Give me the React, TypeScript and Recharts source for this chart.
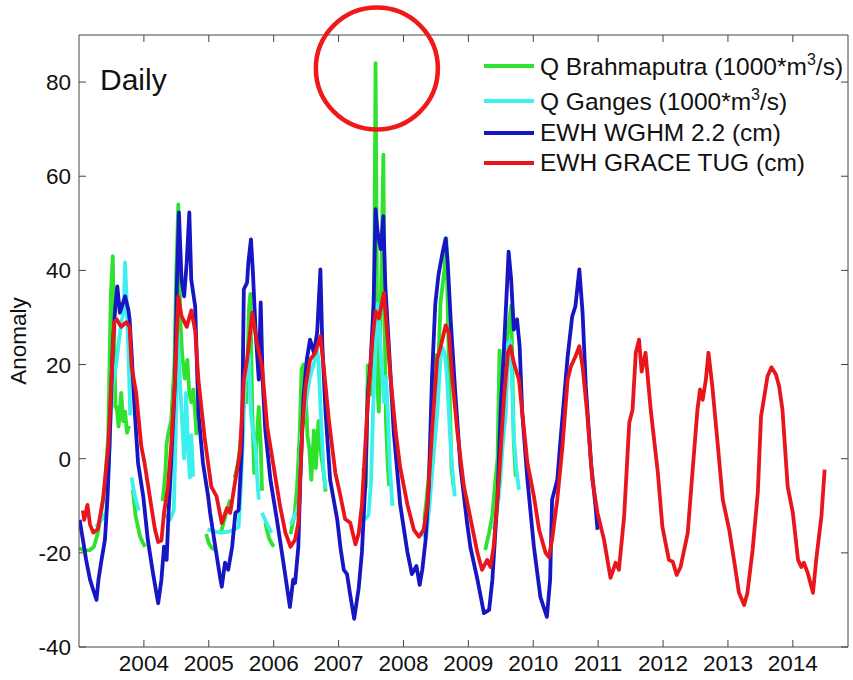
import { LineChart, Line, XAxis, YAxis, ReferenceDot, Legend } from "recharts";

type Pt = [number, number] | null;

const YEAR_TICKS = [2004, 2005, 2006, 2007, 2008, 2009, 2010, 2011, 2012, 2013, 2014];
const ANOMALY_TICKS = [-40, -20, 0, 20, 40, 60, 80];
const X_DOMAIN: [number, number] = [2003, 2014.85];
const Y_DOMAIN: [number, number] = [-40, 90];

// the 2007 Brahmaputra spike that is circled in the figure
const HIGHLIGHT = { t: 2007.59, v: 82.9 };

// [decimal year, anomaly]; null = data gap
const brahmaputra: Pt[] = [
  [2003.0, -19], [2003.08, -19.5], [2003.17, -19.4], [2003.23, -18.7], [2003.29, -15.8], [2003.34, -11.5],
  [2003.4, -6], [2003.45, 5], [2003.49, 34.5], [2003.52, 43], [2003.54, 30], [2003.56, 11], [2003.58, 11],
  [2003.61, 6.8], [2003.65, 14], [2003.68, 8], [2003.71, 10], [2003.74, 5.5], [2003.77, 7],
  null,
  [2003.83, -6.6], [2003.87, -12], [2003.94, -16.5], [2003.99, -18], [2004.02, -18.7],
  null,
  [2004.29, -9], [2004.33, -3], [2004.35, 3], [2004.37, 5], [2004.42, 8], [2004.47, 20], [2004.5, 40],
  [2004.53, 54], [2004.56, 30], [2004.59, 22], [2004.63, 17], [2004.67, 21], [2004.7, 14], [2004.73, 12],
  [2004.76, 14.7], [2004.79, 9.8], [2004.81, 5],
  null,
  [2004.96, -16], [2005.0, -18], [2005.05, -19], [2005.1, -19.4],
  null,
  [2005.18, -16], [2005.26, -12], [2005.33, -8.7],
  null,
  [2005.4, -4], [2005.45, -1], [2005.5, 5], [2005.55, 14], [2005.58, 12], [2005.62, 32], [2005.64, 35],
  [2005.67, 10], [2005.7, -3], [2005.73, 2], [2005.77, 11], [2005.8, 3], [2005.82, -6.8],
  null,
  [2005.87, -13.6], [2005.93, -17], [2006.0, -18.7],
  null,
  [2006.26, -16], [2006.32, -12], [2006.36, -6], [2006.4, 5], [2006.43, 19], [2006.46, 20], [2006.49, 15],
  [2006.52, 5], [2006.55, 2], [2006.58, -4.5], [2006.62, 6], [2006.65, -2], [2006.69, 8], [2006.73, 1],
  [2006.77, -3], [2006.8, -7],
  null,
  [2007.38, -2], [2007.42, -6], [2007.45, 19.8], [2007.49, 13.6], [2007.52, 18], [2007.55, 40], [2007.57, 84],
  [2007.585, 50], [2007.6, 15], [2007.62, 10], [2007.66, 40], [2007.69, 64.6], [2007.71, 30], [2007.73, 8],
  [2007.76, -2], [2007.78, -5.8],
  null,
  [2008.32, -13], [2008.36, -8], [2008.4, -2], [2008.45, 12], [2008.5, 22], [2008.53, 17], [2008.57, 33],
  [2008.63, 40], [2008.66, 46.8], [2008.7, 20], [2008.74, -2], [2008.77, -5.8],
  null,
  [2009.26, -19.4], [2009.32, -15.7], [2009.37, -12], [2009.4, -7], [2009.45, 0], [2009.48, 23], [2009.5, 12.5],
  [2009.55, 20], [2009.62, 28], [2009.66, 32.5], [2009.7, 3.4], [2009.73, -3.8],
];

const ganges: Pt[] = [
  [2003.26, -14.5], [2003.35, -13], [2003.42, -11.5], [2003.47, 2.6], [2003.5, 13.5], [2003.55, 18.4],
  [2003.58, 20.6], [2003.62, 25.5], [2003.66, 29.6], [2003.69, 31], [2003.71, 41.7], [2003.73, 35],
  [2003.76, 23.4], [2003.79, 9.2],
  null,
  [2003.81, -4], [2003.86, -8], [2003.92, -11],
  null,
  [2004.33, -12], [2004.4, -13], [2004.46, -11], [2004.49, 5], [2004.52, 27], [2004.54, 21], [2004.58, 10],
  [2004.62, 0], [2004.65, 14], [2004.68, 2], [2004.71, -4], [2004.73, 5], [2004.76, -3.8],
  null,
  [2004.98, -15], [2005.1, -15.5], [2005.2, -15.7], [2005.3, -15.5], [2005.4, -15], [2005.46, -14.5],
  [2005.5, -4.5], [2005.55, 13.5], [2005.58, 19.9], [2005.6, 17], [2005.62, 22], [2005.65, 9.8],
  [2005.68, 5.5], [2005.72, 2.6], [2005.74, -3], [2005.77, -8.7],
  null,
  [2005.82, -11.5], [2005.9, -14], [2005.97, -15.7],
  null,
  [2006.26, -14], [2006.33, -12], [2006.4, -9], [2006.42, 4.7], [2006.51, 13.2], [2006.56, 17.4],
  [2006.62, 20.2], [2006.67, 23], [2006.69, 21], [2006.72, 11.3], [2006.75, 2.8], [2006.77, -2.8], [2006.8, -6.4],
  null,
  [2007.4, -13], [2007.46, -12], [2007.5, -5], [2007.53, 9.7], [2007.56, 20], [2007.6, 33], [2007.63, 28],
  [2007.66, 20], [2007.7, 12], [2007.73, 17.4], [2007.76, 9.7], [2007.79, -1.9], [2007.83, -10],
  null,
  [2008.29, -16], [2008.35, -16.6], [2008.4, -10], [2008.46, 0], [2008.52, 9.7], [2008.57, 21.3],
  [2008.6, 23.6], [2008.64, 22], [2008.67, 17.4], [2008.7, 9.7], [2008.73, 1.9], [2008.75, -1.9], [2008.79, -8],
  null,
  [2009.39, -15], [2009.45, -10], [2009.49, -5], [2009.53, 3], [2009.58, 10], [2009.61, 24.6], [2009.64, 25],
  [2009.67, 17.4], [2009.7, 4.7], [2009.74, -2.3], [2009.78, -6.6],
];

const wghm: Pt[] = [
  [2003.01, -13], [2003.06, -17.2], [2003.11, -21.5], [2003.17, -25.7], [2003.22, -27.9], [2003.27, -30],
  [2003.3, -25.7], [2003.34, -22.1], [2003.4, -17.2], [2003.44, -8], [2003.47, 2.6], [2003.52, 23.9],
  [2003.56, 32.4], [2003.59, 36.6], [2003.63, 31], [2003.68, 33.2], [2003.71, 34.5], [2003.76, 31.7],
  [2003.78, 29.6], [2003.81, 22.5], [2003.86, 9.8], [2003.91, -0.9], [2003.99, -8], [2004.06, -17.2],
  [2004.14, -24.3], [2004.22, -30.7], [2004.27, -25.7], [2004.31, -18.7], [2004.35, -21.5], [2004.38, -11.5],
  [2004.42, -0.9], [2004.48, 16.8], [2004.51, 38], [2004.54, 52.3], [2004.58, 38], [2004.62, 34.5],
  [2004.66, 41.7], [2004.7, 52.3], [2004.73, 38], [2004.79, 32.4], [2004.84, 9.8], [2004.91, -0.9],
  [2004.99, -8], [2005.02, -11.5], [2005.1, -18.7], [2005.18, -25.7], [2005.2, -27.2], [2005.25, -22.1],
  [2005.3, -23.6], [2005.36, -18.7], [2005.41, -11.5], [2005.46, -10.9], [2005.51, 2.6], [2005.54, 36],
  [2005.59, 37.4], [2005.61, 41.7], [2005.65, 46.6], [2005.68, 39.6], [2005.72, 27.4], [2005.77, 16.8],
  [2005.8, 33.2], [2005.83, 16.8], [2005.87, 6.2], [2005.95, -4.5], [2006.05, -13], [2006.15, -22.1],
  [2006.25, -31.5], [2006.3, -25.7], [2006.33, -26.4], [2006.38, -18.7], [2006.41, -4.5], [2006.46, 13.2],
  [2006.51, 21], [2006.56, 25.3], [2006.62, 22.5], [2006.67, 26.8], [2006.72, 40.2], [2006.75, 23.9],
  [2006.8, 9.8], [2006.87, -4.5], [2006.98, -13], [2007.03, -19], [2007.08, -23.6], [2007.13, -24.5],
  [2007.18, -29], [2007.24, -34], [2007.31, -27.5], [2007.36, -19.8], [2007.41, -5.8], [2007.45, 13.6],
  [2007.49, 19.8], [2007.54, 32.8], [2007.57, 53], [2007.6, 48.3], [2007.65, 44.5], [2007.69, 51.5],
  [2007.72, 36.8], [2007.77, 25.1], [2007.85, 5.7], [2007.95, -9.8], [2008.06, -19.8], [2008.13, -24.5],
  [2008.2, -22.8], [2008.25, -26.8], [2008.29, -23.6], [2008.34, -17.4], [2008.39, -5.8], [2008.44, 17.4],
  [2008.49, 32.8], [2008.54, 39.1], [2008.6, 43.6], [2008.65, 46.8], [2008.68, 42.1], [2008.73, 28.9],
  [2008.8, 13.6], [2008.88, -1.9], [2008.98, -13.6], [2009.03, -18.7], [2009.14, -25.7], [2009.24, -32.8],
  [2009.32, -32.1], [2009.37, -25.7], [2009.45, -8], [2009.5, 11], [2009.55, 23.9], [2009.6, 38],
  [2009.62, 44], [2009.66, 38], [2009.7, 27.4], [2009.75, 29.6], [2009.79, 23.9], [2009.83, 9.8],
  [2009.91, -4.5], [2010.01, -18.7], [2010.11, -29.4], [2010.21, -33.6], [2010.26, -25.7], [2010.29, -8.7],
  [2010.37, -4.5], [2010.42, 4], [2010.53, 21.7], [2010.6, 30.2], [2010.65, 32.4], [2010.71, 40.2],
  [2010.76, 31], [2010.81, 15.3], [2010.89, -0.9], [2010.96, -10.2], [2010.99, -15.1],
];

const graceTug: Pt[] = [
  [2003.06, -11], [2003.08, -13], [2003.13, -9.8], [2003.17, -14], [2003.22, -15.7], [2003.29, -15],
  [2003.37, -8.7], [2003.45, 2.6], [2003.5, 16.8], [2003.54, 28.9], [2003.58, 29.6], [2003.65, 28],
  [2003.73, 29], [2003.78, 28], [2003.81, 19.6], [2003.88, 14], [2003.96, 2.6], [2004.01, -0.9],
  [2004.09, -8], [2004.17, -15], [2004.22, -17.7], [2004.27, -17.4], [2004.31, -11.5], [2004.37, -6],
  [2004.42, 2.6], [2004.48, 16.8], [2004.53, 34.5], [2004.58, 30.3], [2004.66, 28], [2004.73, 31.5],
  [2004.79, 27.2], [2004.84, 16.8], [2004.94, 4], [2005.04, -6], [2005.12, -8], [2005.2, -13.7],
  [2005.28, -10.5], [2005.33, -11.5], [2005.41, -4.5], [2005.48, 1.3], [2005.54, 16.8], [2005.59, 21],
  [2005.67, 31], [2005.74, 24.7], [2005.82, 19.6], [2005.9, 6.8], [2006.0, -1.7], [2006.1, -10.2],
  [2006.18, -15.7], [2006.26, -18.7], [2006.33, -17.2], [2006.38, -13.6], [2006.44, 6.2], [2006.49, 15.3],
  [2006.56, 21], [2006.64, 22.5], [2006.72, 26], [2006.77, 19.6], [2006.85, 8.3], [2006.95, -3],
  [2007.03, -8], [2007.1, -12.8], [2007.18, -13.6], [2007.26, -18.2], [2007.31, -15.9], [2007.36, -9.7],
  [2007.44, 9.7], [2007.52, 25.1], [2007.57, 31.3], [2007.62, 29.8], [2007.7, 35.2], [2007.75, 26.7],
  [2007.8, 17.4], [2007.88, 5.7], [2007.95, -1.9], [2008.06, -9.7], [2008.16, -15.1], [2008.24, -16.6],
  [2008.31, -15.1], [2008.37, -9.7], [2008.44, 5.7], [2008.52, 21.3], [2008.57, 23.6], [2008.65, 28.3],
  [2008.7, 26.7], [2008.75, 17.4], [2008.83, 5.7], [2008.93, -5.8], [2009.03, -12.5], [2009.14, -20],
  [2009.21, -23.6], [2009.29, -21.5], [2009.34, -23], [2009.39, -18.7], [2009.47, -4.5], [2009.55, 13.2],
  [2009.61, 22.5], [2009.65, 23.9], [2009.7, 20.4], [2009.78, 16.8], [2009.83, 9.8], [2009.91, -0.9],
  [2010.01, -8], [2010.09, -15.1], [2010.19, -20], [2010.24, -20.9], [2010.29, -17.2], [2010.37, -8.7],
  [2010.45, 2.6], [2010.53, 16.8], [2010.58, 19.6], [2010.65, 21.7], [2010.71, 23.9], [2010.76, 19.6],
  [2010.83, 9.8], [2010.91, -4.5], [2010.99, -11.5], [2011.09, -17.2], [2011.19, -25.3], [2011.27, -22.1],
  [2011.32, -23.6], [2011.4, -12.3], [2011.48, 7.7], [2011.53, 10.4], [2011.58, 22.5], [2011.63, 25.3],
  [2011.67, 18.5], [2011.73, 22.5], [2011.81, 10.4], [2011.92, -3], [2011.99, -14.5], [2012.09, -21.5],
  [2012.15, -21.9], [2012.21, -24.7], [2012.27, -23], [2012.38, -15.8], [2012.46, -1.7], [2012.53, 10.4],
  [2012.57, 14.7], [2012.61, 12.5], [2012.66, 16.8], [2012.7, 22.5], [2012.76, 15.3], [2012.84, 3.4],
  [2012.92, -8.7], [2013.02, -15.1], [2013.1, -22.1], [2013.17, -28.5], [2013.25, -31.1], [2013.3, -28.5],
  [2013.38, -19.4], [2013.46, -7.2], [2013.51, 9], [2013.56, 13.2], [2013.61, 17.5], [2013.67, 19.4],
  [2013.74, 17.9], [2013.79, 15.3], [2013.84, 10.4], [2013.92, -5.9], [2014.0, -11.5], [2014.08, -21.5],
  [2014.13, -23], [2014.17, -22.1], [2014.23, -24.3], [2014.31, -28.5], [2014.36, -21.5], [2014.44, -12.3],
  [2014.49, -2.3],
];

const SERIES = [
  { key: "brahmaputra", label: "Q Brahmaputra", unit: ["(1000*m", "3", "/s)"], color: "#2ee22e", pts: brahmaputra },
  { key: "ganges", label: "Q Ganges", unit: ["(1000*m", "3", "/s)"], color: "#3cf0ee", pts: ganges },
  { key: "wghm", label: "EWH WGHM 2.2", unit: ["(cm)"], color: "#1616c4", pts: wghm },
  { key: "grace", label: "EWH GRACE TUG", unit: ["(cm)"], color: "#e8161c", pts: graceTug },
];

const FONT = "'Liberation Sans', Arial, Helvetica, sans-serif";
const AXIS = "#444";

// gaps become a null row halfway between the neighbours so the line breaks
function toRows(pts: Pt[]) {
  return pts.map((p, i) => {
    if (p) return { t: p[0], v: p[1] as number | null };
    const a = pts[i - 1] as [number, number];
    const b = pts[i + 1] as [number, number];
    return { t: (a[0] + b[0]) / 2, v: null };
  });
}

const ROW_H = [36, 34, 30, 30];

function LegendBox() {
  return (
    <div style={{ fontFamily: FONT, fontSize: 24.5, color: "#111" }}>
      {SERIES.map((s, i) => (
        <div key={s.key} style={{ display: "flex", alignItems: "center", height: ROW_H[i] }}>
          <span style={{ display: "inline-block", width: 50, height: 4, background: s.color, marginRight: 6 }} />
          <span style={{ whiteSpace: "nowrap", lineHeight: 1 }}>
            {s.label} {s.unit[0]}
            {s.unit.length > 1 && (
              <>
                <sup style={{ fontSize: 16, verticalAlign: 10 }}>{s.unit[1]}</sup>
                {s.unit[2]}
              </>
            )}
          </span>
        </div>
      ))}
    </div>
  );
}

export default function App() {
  return (
    <div style={{ position: "absolute", left: 0, top: 0, width: 853, height: 680, background: "#fff", fontFamily: FONT }}>
      <LineChart width={853} height={680} margin={{ top: 34, right: 4, bottom: 0, left: 0 }}>
        <XAxis
          xAxisId="b"
          type="number"
          dataKey="t"
          domain={X_DOMAIN}
          ticks={YEAR_TICKS}
          allowDataOverflow
          height={33}
          tickSize={-7}
          tickMargin={15}
          stroke={AXIS}
          tick={{ fill: "#111", fontSize: 22.5, fontFamily: FONT }}
        />
        <XAxis
          xAxisId="top"
          orientation="top"
          type="number"
          dataKey="t"
          domain={X_DOMAIN}
          ticks={YEAR_TICKS}
          allowDataOverflow
          height={1}
          tickSize={-7}
          tickFormatter={() => ""}
          stroke={AXIS}
        />
        <YAxis
          yAxisId="l"
          type="number"
          domain={Y_DOMAIN}
          ticks={ANOMALY_TICKS}
          allowDataOverflow
          width={79}
          tickSize={-7}
          tickMargin={15}
          stroke={AXIS}
          tick={{ fill: "#111", fontSize: 22.5, fontFamily: FONT }}
          label={{
            value: "Anomaly",
            angle: -90,
            position: "insideLeft",
            offset: 18,
            style: { textAnchor: "middle", fontSize: 22.5, fill: "#111", fontFamily: FONT },
          }}
        />
        <YAxis
          yAxisId="r"
          orientation="right"
          type="number"
          domain={Y_DOMAIN}
          ticks={ANOMALY_TICKS}
          allowDataOverflow
          width={1}
          tickSize={-7}
          tickFormatter={() => ""}
          stroke={AXIS}
        />
        {SERIES.map((s) => (
          <Line
            key={s.key}
            xAxisId="b"
            yAxisId="l"
            data={toRows(s.pts)}
            dataKey="v"
            name={s.label}
            type="linear"
            stroke={s.color}
            strokeWidth={3.8}
            strokeLinejoin="round"
            dot={false}
            activeDot={false}
            connectNulls={false}
            isAnimationActive={false}
          />
        ))}
        <ReferenceDot
          xAxisId="b"
          yAxisId="l"
          x={HIGHLIGHT.t}
          y={HIGHLIGHT.v}
          r={61}
          fill="none"
          stroke="#f01818"
          strokeWidth={4.5}
          ifOverflow="visible"
        />
        <Legend
          layout="vertical"
          align="center"
          verticalAlign="middle"
          content={() => <LegendBox />}
          wrapperStyle={{ left: 484, top: 48, width: 369 }}
        />
      </LineChart>
      <div style={{ position: "absolute", left: 100, top: 63, fontSize: 30, color: "#111", fontFamily: FONT }}>Daily</div>
    </div>
  );
}
